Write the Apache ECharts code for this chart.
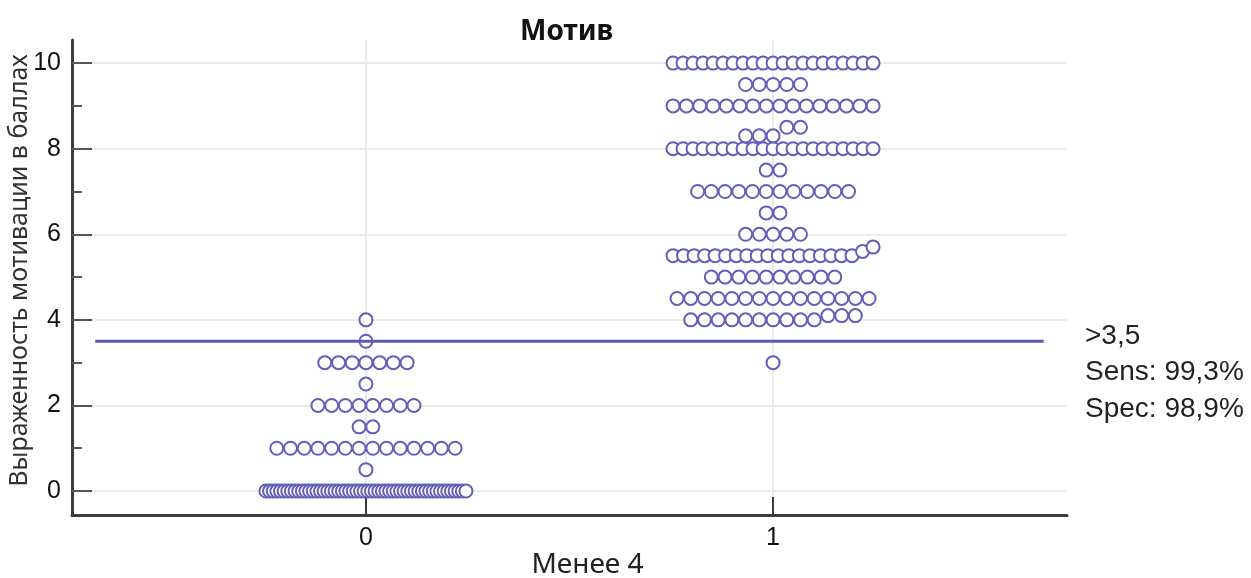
<!DOCTYPE html>
<html><head><meta charset="utf-8">
<script src="https://cdn.jsdelivr.net/npm/echarts@6/dist/echarts.min.js"></script>
<style>html,body{margin:0;padding:0;background:#fff}#c{width:1251px;height:578px}</style>
</head><body><div id="c"></div>
<script>
// ---- data ----
const categories = [0, 1];
const categoryLabels = ['0', '1'];
// [score, number of subjects] per group
const group0Values = [[0, 56], [0.5, 1], [1, 14], [1.5, 2], [2, 8], [2.5, 1], [3, 7], [3.5, 1], [4, 1]];
const group1Values = [[3, 1], [4, 10], [4.1, 3], [4.5, 15], [5, 10], [5.5, 18], [5.6, 1], [5.7, 1], [6, 5],
  [6.5, 2], [7, 12], [7.5, 2], [8, 21], [8.3, 3], [8.5, 2], [9, 16], [9.5, 5], [10, 21]];
const yMajorTicks = [0, 2, 4, 6, 8, 10];
const yMinorTicks = [1, 3, 5, 7, 9];
const thresholdValue = 3.5;
const annotationLines = ['>3,5', 'Sens: 99,3%', 'Spec: 98,9%'];
const titleText = 'Мотив';
const xAxisName = 'Менее 4';
const yAxisName = 'Выраженность мотивации в баллах';

// ---- layout ----
const X_MIN = -0.722, X_MAX = 1.722, Y_MIN = -0.56, Y_MAX = 10.54;
const DOT_STEP = 0.0337, ROW_MAX_WIDTH = 0.4914, ROW_GAP = 0.25;
const LINE_INSET = 0.057;

function layoutDots(center, groups) {
  const vals = [];
  groups.forEach(([v, c]) => { for (let i = 0; i < c; i++) vals.push(v); });
  vals.sort((a, b) => a - b);
  const rows = [];
  let cur = null;
  vals.forEach(v => {
    if (!cur || v - cur[0] >= ROW_GAP) { cur = []; rows.push(cur); }
    cur.push(v);
  });
  const pts = [];
  rows.forEach(row => {
    const n = row.length;
    const step = n > 1 ? Math.min(DOT_STEP, ROW_MAX_WIDTH / (n - 1)) : 0;
    row.forEach((v, i) => pts.push([center + (i - (n - 1) / 2) * step, v]));
  });
  return pts;
}

const dotColor = '#6060b8';
const tickFont = 'Liberation Sans';
const textFont = 'Noto Sans';

const scatterStyle = {
  type: 'scatter', symbol: 'circle', symbolSize: 13,
  itemStyle: { color: '#ffffff', borderColor: dotColor, borderWidth: 2, opacity: 1 },
  emphasis: { disabled: true }, z: 3, animation: false
};

const chart = echarts.init(document.getElementById('c'), null, { renderer: 'canvas' });
chart.setOption({
  animation: false,
  backgroundColor: '#ffffff',
  title: {
    text: titleText, left: 515, top: 13,
    textStyle: { fontFamily: textFont, fontWeight: 'bold', fontSize: 28, color: '#111' }
  },
  grid: { left: 72, right: 184, top: 40, bottom: 63, containLabel: false, outerBoundsMode: 'none' },
  xAxis: {
    type: 'value', min: X_MIN, max: X_MAX,
    name: xAxisName, nameLocation: 'middle', nameGap: 36, nameMoveOverlap: false,
    nameTextStyle: { fontFamily: textFont, fontSize: 28, color: '#222', padding: [0, 0, 0, 36] },
    axisLine: { show: true, onZero: false, lineStyle: { color: '#3c3c3c', width: 3 } },
    axisTick: { show: true, inside: true, length: 18, customValues: categories, lineStyle: { color: '#3c3c3c', width: 2 } },
    axisLabel: { customValues: categories, formatter: v => categoryLabels[categories.indexOf(v)], fontFamily: tickFont, fontSize: 25, color: '#111', margin: 11 },
    splitLine: { show: true, lineStyle: { color: '#ebebeb', width: 2 } }
  },
  yAxis: [{
    type: 'value', min: Y_MIN, max: Y_MAX, position: 'left',
    name: yAxisName, nameLocation: 'middle', nameGap: 40, nameMoveOverlap: false,
    nameTextStyle: { fontFamily: textFont, fontSize: 25, color: '#333', padding: [0, 0, 0, 14] },
    axisLine: { show: true, onZero: false, lineStyle: { color: '#3c3c3c', width: 3 } },
    axisTick: { show: true, inside: true, length: 20, customValues: yMajorTicks, lineStyle: { color: '#555', width: 2 } },
    axisLabel: { customValues: yMajorTicks, fontFamily: tickFont, fontSize: 25, color: '#111', margin: 11 },
    splitLine: { show: true, lineStyle: { color: '#ebebeb', width: 2 } }
  }, {
    type: 'value', min: Y_MIN, max: Y_MAX, position: 'left', offset: 0,
    axisLine: { show: false, onZero: false },
    axisTick: { show: true, inside: true, length: 10, customValues: yMinorTicks, lineStyle: { color: '#555', width: 2 } },
    axisLabel: { show: false },
    splitLine: { show: false }
  }],
  series: [
    Object.assign({ name: '0', data: layoutDots(categories[0], group0Values) }, scatterStyle),
    Object.assign({ name: '1', data: layoutDots(categories[1], group1Values) }, scatterStyle),
    {
      type: 'line', name: 'cutoff', symbol: 'none', z: 5, animation: false,
      data: [[X_MIN + LINE_INSET, thresholdValue], [X_MAX - LINE_INSET, thresholdValue]],
      lineStyle: { color: '#5a5bb0', width: 3 }, emphasis: { disabled: true }
    }
  ],
  graphic: [{
    type: 'text', left: 1085, top: 318, silent: true,
    style: { text: annotationLines.join('\n'), fontFamily: tickFont, fontSize: 28, lineHeight: 36.5, fill: '#222' }
  }]
});
</script></body></html>
